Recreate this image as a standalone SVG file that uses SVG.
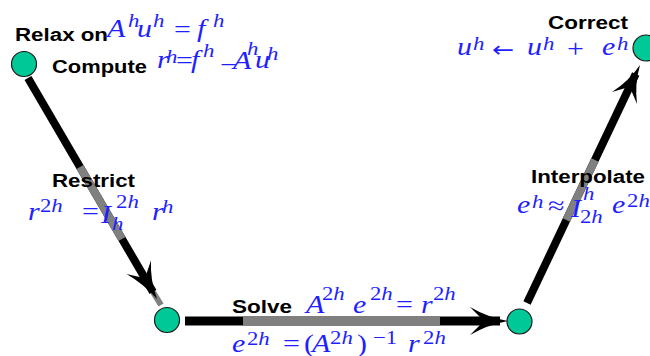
<svg xmlns="http://www.w3.org/2000/svg" width="650" height="356" viewBox="0 0 650 356">
<style>
.node{fill:#00c896;stroke:#1a1a1a;stroke-width:1.2}
.blk{stroke:#000;fill:none;stroke-linecap:butt}
.gry{stroke:#808080;fill:none;stroke-linecap:butt}
.head{fill:#000}
.lbl{font-family:"Liberation Sans",Arial,sans-serif;font-weight:bold;font-size:18px;fill:#000}
.m{font-family:"Liberation Serif","Times New Roman",serif;font-style:italic;font-size:25px;fill:#1f1fff}
.s{font-size:19px}
.up{font-style:normal}
.ar{font-family:"DejaVu Sans",sans-serif;font-style:normal;font-size:22px}
</style>
<rect width="650" height="356" fill="#fff"/>
<g id="connectors">
  <g id="edge-restrict">
    <line class="blk" x1="28" y1="78" x2="153" y2="292" stroke-width="8"/>
    <line class="gry" x1="80" y1="167" x2="122" y2="239" stroke-width="8"/>
    <line class="gry" x1="153" y1="292" x2="161" y2="305" stroke-width="6"/>
    <path class="head" d="M157,299 Q143.5,283.8 126.5,274 L144.9,278.3 L151,260.5 Q150,280 157,299 Z"/>
  </g>
  <g id="edge-solve">
    <line class="blk" x1="185" y1="321" x2="500" y2="321" stroke-width="9"/>
    <line class="gry" x1="243" y1="321" x2="440" y2="321" stroke-width="9"/>
    <path class="head" d="M508,321 Q487,317 470,307 L484,321 L470,335 Q487,325 508,321 Z"/>
  </g>
  <g id="edge-interpolate">
    <line class="blk" x1="527" y1="303" x2="635.7" y2="74" stroke-width="8"/>
    <line class="gry" x1="566.4" y1="220" x2="595" y2="160" stroke-width="8"/>
    <path class="head" d="M640,65 Q634.5,84.5 637,104 L629.7,86.7 L612,92 Q628.5,81.5 640,65 Z"/>
  </g>
</g>
<g id="node-relax"><circle class="node" cx="24" cy="64" r="12.5"/></g>
<g id="node-restrict"><circle class="node" cx="167" cy="320" r="12.5"/></g>
<g id="node-interpolate"><circle class="node" cx="519.5" cy="321.5" r="12.5"/></g>
<g id="node-correct"><circle class="node" cx="646" cy="48" r="13"/></g>
<g id="labels">
  <text class="lbl" x="15" y="41" textLength="93" lengthAdjust="spacingAndGlyphs">Relax on</text>
  <text class="lbl" x="52" y="73" textLength="95" lengthAdjust="spacingAndGlyphs">Compute</text>
  <text class="lbl" x="52" y="187" textLength="83" lengthAdjust="spacingAndGlyphs">Restrict</text>
  <text class="lbl" x="531" y="183" textLength="114" lengthAdjust="spacingAndGlyphs">Interpolate</text>
  <text class="lbl" x="548" y="29" textLength="80" lengthAdjust="spacingAndGlyphs">Correct</text>
  <text class="lbl" x="232" y="313" textLength="60" lengthAdjust="spacingAndGlyphs">Solve</text>
</g>
<g id="math" transform="scale(1.2,1)">
  <text class="m"><tspan x="89.2" y="37">A</tspan><tspan class="s" x="106.7" y="27">h</tspan><tspan x="114.2" y="37">u</tspan><tspan class="s" x="127.5" y="27">h</tspan><tspan class="up" x="145" y="38">=</tspan><tspan x="164.2" y="37">f</tspan><tspan class="s" x="177.5" y="27">h</tspan></text>
  <text class="m"><tspan x="130.8" y="68">r</tspan><tspan class="s" x="138.3" y="63">h</tspan><tspan class="up" x="146.7" y="69">=</tspan><tspan x="159.2" y="68">f</tspan><tspan class="s" x="169.2" y="57">h</tspan><tspan class="up" x="183.3" y="73">−</tspan><tspan x="194.2" y="69">A</tspan><tspan class="s" x="205.8" y="55">h</tspan><tspan x="212.5" y="68">u</tspan><tspan class="s" x="222.5" y="60">h</tspan></text>
  <text class="m"><tspan x="23.3" y="220">r</tspan><tspan class="s up" x="33.3" y="212">2</tspan><tspan class="s">h</tspan><tspan class="up" x="68.3" y="220">=</tspan><tspan x="84.2" y="223">I</tspan><tspan class="s up" x="96.7" y="208">2</tspan><tspan class="s">h</tspan><tspan class="s" x="93.3" y="230">h</tspan><tspan x="126.7" y="220">r</tspan><tspan class="s" x="135" y="213">h</tspan></text>
  <text class="m"><tspan x="430.8" y="213">e</tspan><tspan class="s" x="443.3" y="208">h</tspan><tspan class="up" x="456.7" y="214">≈</tspan><tspan x="475.8" y="217">I</tspan><tspan class="s" x="485.8" y="200">h</tspan><tspan class="s up" x="483.3" y="223">2</tspan><tspan class="s">h</tspan><tspan x="510" y="213">e</tspan><tspan class="s up" x="522.5" y="207">2</tspan><tspan class="s">h</tspan></text>
  <text class="m"><tspan x="380.8" y="55">u</tspan><tspan class="s" x="394.2" y="50">h</tspan><tspan class="ar" x="410" y="57">←</tspan><tspan x="439.2" y="55">u</tspan><tspan class="s" x="452.5" y="50">h</tspan><tspan class="up" x="472.5" y="57">+</tspan><tspan x="501.7" y="55">e</tspan><tspan class="s" x="514.2" y="50">h</tspan></text>
  <text class="m"><tspan x="255" y="313">A</tspan><tspan class="s up" x="268.3" y="300">2</tspan><tspan class="s">h</tspan><tspan x="294.2" y="313">e</tspan><tspan class="s up" x="308.3" y="300">2</tspan><tspan class="s">h</tspan><tspan class="up" x="330" y="313">=</tspan><tspan x="350.8" y="313">r</tspan><tspan class="s up" x="360.8" y="300">2</tspan><tspan class="s">h</tspan></text>
  <text class="m"><tspan x="193.3" y="352">e</tspan><tspan class="s up" x="205.8" y="345">2</tspan><tspan class="s">h</tspan><tspan class="up" x="235.8" y="352">=</tspan><tspan class="up" x="253.3" y="352">(</tspan><tspan x="260" y="352">A</tspan><tspan class="s up" x="275" y="344">2</tspan><tspan class="s">h</tspan><tspan class="up" x="297.5" y="352">)</tspan><tspan class="s up" x="310.8" y="344">−1</tspan><tspan x="340" y="352">r</tspan><tspan class="s up" x="352.5" y="344">2</tspan><tspan class="s">h</tspan></text>
</g>
</svg>
